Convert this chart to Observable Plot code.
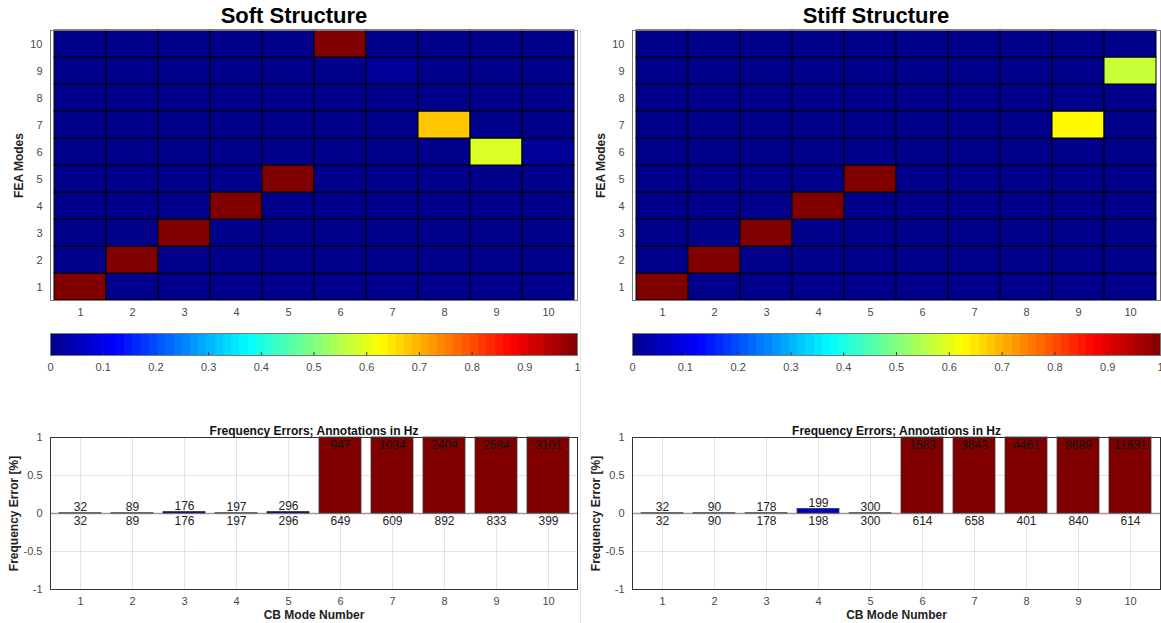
<!DOCTYPE html>
<html>
<head>
<meta charset="utf-8">
<script src="https://cdn.jsdelivr.net/npm/d3@7"></script>
<script src="https://cdn.jsdelivr.net/npm/@observablehq/plot@0.6"></script>
<style>
  body { margin: 0; background: #fff; font-family: "Liberation Sans", Arial, sans-serif; }
  #fig { position: relative; width: 1161px; height: 623px; overflow: hidden; }
  .abs { position: absolute; }
  .title { position: absolute; font-weight: bold; font-size: 22px; color: #000; transform: translateX(-50%); white-space: nowrap; }
  .sep { position: absolute; left: 580px; top: 30px; width: 1px; height: 593px; background: #e4e4e4; }
</style>
</head>
<body>
<div id="fig"></div>
<script>
// ---------- data ----------
const modes = [1, 2, 3, 4, 5, 6, 7, 8, 9, 10];
const colorTicks = [0, 0.1, 0.2, 0.3, 0.4, 0.5, 0.6, 0.7, 0.8, 0.9, 1];
const errTicks = [-1, -0.5, 0, 0.5, 1];

// MAC matrices: rows = FEA mode 1..10, columns = CB mode 1..10
const softMAC = [
  [1, 0, 0, 0, 0, 0, 0, 0, 0, 0],
  [0, 1, 0, 0, 0, 0, 0, 0, 0, 0],
  [0, 0, 1, 0, 0, 0, 0, 0, 0, 0],
  [0, 0, 0, 1, 0, 0, 0, 0, 0, 0],
  [0, 0, 0, 0, 1, 0, 0, 0, 0, 0],
  [0, 0, 0, 0, 0, 0, 0, 0, 0.59, 0.015],
  [0, 0, 0, 0, 0, 0, 0, 0.68, 0, 0],
  [0, 0, 0, 0, 0, 0, 0, 0, 0, 0],
  [0, 0, 0, 0, 0, 0, 0.015, 0, 0, 0],
  [0, 0, 0, 0, 0, 1, 0, 0, 0, 0]
];
const stiffMAC = [
  [1, 0, 0, 0, 0, 0, 0, 0, 0, 0],
  [0, 1, 0, 0, 0, 0, 0, 0, 0, 0],
  [0, 0, 1, 0, 0, 0, 0, 0, 0, 0],
  [0, 0, 0, 1, 0, 0, 0, 0, 0, 0],
  [0, 0, 0, 0, 1, 0, 0, 0, 0, 0],
  [0, 0, 0, 0, 0, 0, 0, 0, 0, 0],
  [0, 0, 0, 0, 0, 0, 0, 0, 0.63, 0],
  [0, 0, 0, 0, 0, 0, 0, 0, 0, 0],
  [0, 0, 0, 0, 0, 0, 0, 0, 0, 0.57],
  [0, 0, 0, 0, 0, 0, 0, 0, 0, 0]
];

// Frequency errors [%] (bars clipped at 1 in the chart)
const softErr  = [0.003, 0.003, 0.02, 0.003, 0.02, 46, 70, 170, 210, 677];
const softTop  = [32, 89, 176, 197, 296, 947, 1034, 2404, 2584, 3101];
const softBot  = [32, 89, 176, 197, 296, 649, 609, 892, 833, 399];
const stiffErr = [0.003, 0.003, 0.003, 0.06, 0.003, 158, 484, 1012, 934, 1794];
const stiffTop = [32, 90, 178, 199, 300, 1583, 3843, 4461, 8689, 11631];
const stiffBot = [32, 90, 178, 198, 300, 614, 658, 401, 840, 614];

// ---------- style ----------
const FONT = "'Liberation Sans', Arial, sans-serif";
const TICKCOL = "#4a4a4a";
const jet = {
  type: "linear",
  domain: [0, 0.125, 0.375, 0.625, 0.875, 1],
  range: ["#00008b", "#0000ff", "#00ffff", "#ffff00", "#ff0000", "#800000"],
  interpolate: "rgb",
  clamp: true
};

const fig = document.getElementById("fig");
function place(node, left, top) {
  node.classList.add("abs");
  node.style.left = left + "px";
  node.style.top = top + "px";
  fig.appendChild(node);
}
function addTitle(text, cx, top) {
  const d = document.createElement("div");
  d.className = "title";
  d.textContent = text;
  d.style.left = cx + "px";
  d.style.top = top + "px";
  fig.appendChild(d);
}

function heatmap(mat, width, mLeft, mRight) {
  const cells = [];
  mat.forEach((row, i) => row.forEach((v, j) => cells.push({fea: modes[i], cb: modes[j], v})));
  return Plot.plot({
    width, height: 325,
    marginLeft: mLeft, marginRight: mRight, marginTop: 30, marginBottom: 25,
    style: {fontFamily: FONT, fontSize: "11px", background: "transparent"},
    x: {domain: modes, padding: 0, label: null},
    y: {domain: modes, padding: 0, reverse: true, label: null},
    color: jet,
    marks: [
      Plot.cell(cells, {x: "cb", y: "fea", fill: "v", stroke: "#000", strokeWidth: 1}),
      Plot.frame({stroke: "#7a7a7a"}),
      Plot.axisX({tickSize: 0, tickPadding: 8, fill: TICKCOL, label: null}),
      Plot.axisY({tickSize: 0, tickPadding: 8, fill: TICKCOL, label: null}),
      Plot.text(["FEA Modes"], {text: d => d, frameAnchor: "left", textAnchor: "middle", rotate: -90, dx: -31, fontWeight: "bold", fontSize: 12, fill: "#222"})
    ]
  });
}

function colorbar(width, mLeft, mRight) {
  const bins = d3.range(64);
  return Plot.plot({
    width, height: 60,
    marginLeft: mLeft, marginRight: mRight, marginTop: 13, marginBottom: 25,
    style: {fontFamily: FONT, fontSize: "11px", background: "transparent"},
    x: {domain: [0, 1], label: null},
    y: {domain: [0, 1], axis: null},
    color: jet,
    marks: [
      Plot.rectX(bins, {x1: i => i / 64, x2: i => (i + 1.15) / 64, y1: 0, y2: 1, fill: i => (i + 0.5) / 64, shapeRendering: "crispEdges"}),
      Plot.ruleX(colorTicks, {y1: 0, y2: 0.13, stroke: "#333", strokeWidth: 1}),
      Plot.frame({stroke: "#7a7a7a"}),
      Plot.axisX(colorTicks, {tickSize: 0, tickPadding: 8, fill: TICKCOL, tickFormat: d => String(d), label: null})
    ]
  });
}

function barChart(err, top, bot, width, mLeft, mRight) {
  const rows = modes.map((m, i) => ({m, err: err[i], top: top[i], bot: bot[i]}));
  return Plot.plot({
    width, height: 213,
    marginLeft: mLeft, marginRight: mRight, marginTop: 27, marginBottom: 34,
    style: {fontFamily: FONT, fontSize: "11px", background: "transparent"},
    x: {domain: modes, paddingInner: 0.2, paddingOuter: 0.1, label: null},
    y: {domain: [-1, 1], clamp: true, label: null},
    color: jet,
    marks: [
      Plot.gridX(modes, {stroke: "#d0d0d0", strokeOpacity: 0.6}),
      Plot.gridY([-0.5, 0.5], {stroke: "#d0d0d0", strokeOpacity: 0.6}),
      Plot.ruleY([0], {stroke: "#9a9a9a", strokeWidth: 1.5}),
      Plot.barY(rows, {x: "m", y: "err", fill: "err", stroke: "#3a3a3a", strokeWidth: 0.8}),
      Plot.text(rows.filter(d => d.err < 1), {x: "m", y: "err", text: d => String(d.top), lineAnchor: "bottom", dy: -2, fontSize: 12, fill: "#222"}),
      Plot.text(rows.filter(d => d.err >= 1), {x: "m", y: "err", text: d => String(d.top), lineAnchor: "top", dy: 3, fontSize: 12, fill: "#111"}),
      Plot.text(rows, {x: "m", y: 0, text: d => String(d.bot), lineAnchor: "top", dy: 3, fontSize: 12, fill: "#222"}),
      Plot.frame({stroke: "#333"}),
      Plot.axisX({tickSize: 0, tickPadding: 8, fill: TICKCOL, label: null}),
      Plot.axisY(errTicks, {tickSize: 0, tickPadding: 8, fill: TICKCOL, tickFormat: d => String(d), label: null}),
      Plot.text(["Frequency Errors; Annotations in Hz"], {text: d => d, frameAnchor: "top", lineAnchor: "bottom", dy: -3, fontWeight: "bold", fontSize: 12, fill: "#111"}),
      Plot.text(["CB Mode Number"], {text: d => d, frameAnchor: "bottom", lineAnchor: "top", dy: 21, fontWeight: "bold", fontSize: 12, fill: "#222"}),
      Plot.text(["Frequency Error [%]"], {text: d => d, frameAnchor: "left", textAnchor: "middle", rotate: -90, dx: -36, fontWeight: "bold", fontSize: 12, fill: "#222"})
    ]
  });
}

// ---------- layout ----------
addTitle("Soft Structure", 294, 3);
addTitle("Stiff Structure", 876, 3);
place(heatmap(softMAC, 590, 50, 13), 0, 0);
place(heatmap(stiffMAC, 581, 52, 1), 580, 0);
place(colorbar(590, 50, 13), 0, 320);
place(colorbar(581, 52, 1), 580, 320);
place(barChart(softErr, softTop, softBot, 590, 50, 13), 0, 410);
place(barChart(stiffErr, stiffTop, stiffBot, 581, 52, 1), 580, 410);
const sep = document.createElement("div");
sep.className = "sep";
fig.appendChild(sep);
</script>
</body>
</html>
